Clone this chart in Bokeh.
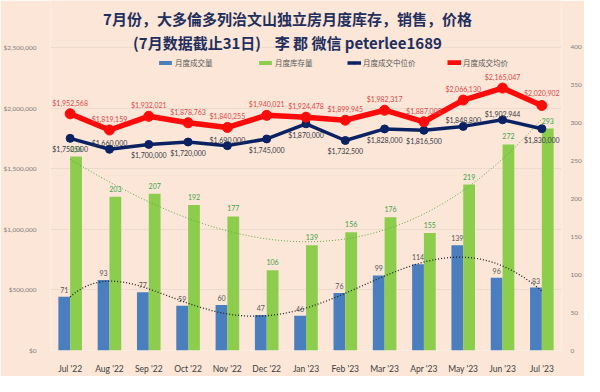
import numpy as np
from bokeh.plotting import figure
from bokeh.models import (ColumnDataSource, Range1d, LinearAxis, FixedTicker,
                          NumeralTickFormatter, Label, LabelSet, Legend, LegendItem)
from bokeh.transform import dodge
from bokeh.core.properties import value
from bokeh.embed import file_html
from bokeh.resources import INLINE

# ---------------- data ----------------
months = ["Jul '22", "Aug '22", "Sep '22", "Oct '22", "Nov '22", "Dec '22", "Jan '23",
          "Feb '23", "Mar '23", "Apr '23", "May '23", "Jun '23", "Jul '23"]
sales = [71, 93, 77, 59, 60, 47, 46, 76, 99, 114, 139, 96, 83]
inventory = [256, 203, 207, 192, 177, 106, 139, 156, 176, 155, 219, 272, 293]
median_price = [1750000, 1660000, 1700000, 1720000, 1690000, 1745000, 1870000,
                1732500, 1828000, 1816500, 1848800, 1902944, 1830000]
avg_price = [1952568, 1819159, 1932021, 1878763, 1840255, 1940021, 1924478,
             1899945, 1982317, 1887002, 2066130, 2165047, 2020902]
left_ticks = [0, 500000, 1000000, 1500000, 2000000, 2500000]
right_ticks = [0, 50, 100, 150, 200, 250, 300, 350, 400]

title1 = "7月份，大多倫多列治文山独立房月度库存，销售，价格"
title2 = "(7月数据截止31日)\u00a0\u00a0\u00a0 李\u00a0郡\u00a0微信\u00a0peterlee1689"
legend_labels = ["月度成交量", "月度库存量", "月度成交中位价", "月度成交均价"]

# label placement (style only)
median_place = ["below", "above", "below", "below", "above", "below", "below",
                "below", "below", "below", "above", "above", "below"]
avg_place = ["above"] * 12 + ["high"]

# ---------------- styles ----------------
BG = "#FBE6D7"
BLUE = "#4A7EBE"
GREEN = "#8DCD4E"
NAVY = "#0A2263"
RED = "#FF0A0A"
FONT = "Lato"
CJK = "Noto Sans CJK SC"

W, H = 584, 376
BORDER_B = 22
FRAME_H = H - BORDER_B
PLOT_H = 306.5  # pixel height of 0..top-tick
left_top = left_ticks[-1] * FRAME_H / PLOT_H
right_top = right_ticks[-1] * FRAME_H / PLOT_H

p = figure(width=W, height=H, x_range=months, y_range=Range1d(0, left_top),
           output_backend="svg", toolbar_location=None, title=None,
           min_border_left=48, min_border_right=16, min_border_top=0,
           min_border_bottom=BORDER_B, background_fill_color=BG,
           border_fill_color=BG, outline_line_color=None)
p.x_range.range_padding = 0
p.extra_y_ranges = {"right": Range1d(0, right_top)}

# axes
p.yaxis.ticker = FixedTicker(ticks=left_ticks)
p.yaxis.formatter = NumeralTickFormatter(format="$0,0")
ax_r = LinearAxis(y_range_name="right", ticker=FixedTicker(ticks=right_ticks))
p.add_layout(ax_r, "right")
for ax in [p.yaxis[0], ax_r, p.xaxis[0]]:
    ax.axis_line_color = None
    ax.major_tick_line_color = None
    ax.minor_tick_line_color = None
for ax in [p.yaxis[0], ax_r]:
    ax.major_label_text_font = FONT
    ax.major_label_text_font_size = "6.5px"
    ax.major_label_text_color = "#808080"
p.yaxis[0].major_label_standoff = 8
ax_r.major_label_standoff = 3
p.xaxis.major_label_text_font = FONT
p.xaxis.major_label_text_font_size = "8.5px"
p.xaxis.major_label_text_color = "#404040"
p.xaxis.major_label_standoff = 7
p.xgrid.grid_line_color = None
p.ygrid.grid_line_color = "#EAD8CB"
p.ygrid.grid_line_width = 0.8

src = ColumnDataSource(dict(
    m=months, sales=sales, inv=inventory, med=median_price, avg=avg_price,
    sales_t=[str(v) for v in sales], inv_t=[str(v) for v in inventory],
    med_t=["${:,}".format(v) for v in median_price],
    avg_t=["${:,}".format(v) for v in avg_price],
    med_dy=[-11 if pl == "below" else 6 for pl in median_place],
    avg_dy=[13 if pl == "high" else 11 for pl in avg_place],
))

# bars
b_sales = p.vbar(x=dodge("m", -0.15, range=p.x_range), top="sales", width=0.3,
                 source=src, y_range_name="right", fill_color=BLUE, line_color=None)
b_inv = p.vbar(x=dodge("m", 0.15, range=p.x_range), top="inv", width=0.3,
               source=src, y_range_name="right", fill_color=GREEN, line_color=None)

p.text(x=dodge("m", -0.15, range=p.x_range), y="sales", text="sales_t", source=src,
       y_range_name="right", y_offset=-7, text_align="center", text_baseline="middle",
       text_font=value(FONT), text_font_size="7px", text_color="#595959")
p.text(x=dodge("m", 0.15, range=p.x_range), y="inv", text="inv_t", source=src,
       y_range_name="right", y_offset=-8, text_align="center", text_baseline="middle",
       text_font=value(FONT), text_font_size="7px", text_color="#3FA34D")

# polynomial trendlines (derived from data)
xi = np.arange(len(months))
xs = np.linspace(0, len(months) - 1, 200)
inv_fit = np.polyval(np.polyfit(xi, inventory, 3), xs)
sales_fit = np.polyval(np.polyfit(xi, sales, 5), xs)
p.line(xs + 0.5, inv_fit, y_range_name="right", line_color="#5AA845",
       line_width=1, line_dash="1 2")
p.line(xs + 0.5, sales_fit, y_range_name="right", line_color="#202020",
       line_width=1.3, line_dash="1 2")

# price lines
l_med = p.line("m", "med", source=src, line_color=NAVY, line_width=3.5, line_join="round")
s_med = p.scatter("m", "med", source=src, size=8, fill_color=NAVY, line_color=NAVY)
l_avg = p.line("m", "avg", source=src, line_color=RED, line_width=5.5, line_join="round")
s_avg = p.scatter("m", "avg", source=src, size=10, fill_color=RED, line_color=RED)

p.add_layout(LabelSet(x="m", y="med", text="med_t", source=src,
                      y_offset="med_dy", text_align="center", text_baseline="middle",
                      text_font=value(FONT), text_font_size="7px",
                      text_color="#3A3A48"))
p.add_layout(LabelSet(x="m", y="avg", text="avg_t", source=src,
                      y_offset="avg_dy", text_align="center", text_baseline="middle",
                      text_font=value(FONT), text_font_size="7px",
                      text_color="#E0474C"))

# legends
leg_specs = [(legend_labels[0], [b_sales], 107, 16),
             (legend_labels[1], [b_inv], 207, 16),
             (legend_labels[2], [l_med, s_med], 297, 14),
             (legend_labels[3], [l_avg, s_avg], 397, 14)]
for lab, rends, xpos, gw in leg_specs:
    lg = Legend(items=[LegendItem(label=lab, renderers=rends)], location=(xpos, 282),
                orientation="horizontal", padding=0, margin=0, spacing=0,
                glyph_width=gw, glyph_height=5, label_standoff=2, label_height=8,
                label_text_font=CJK, label_text_font_size="7.5px",
                label_text_color="#595959", background_fill_alpha=0,
                border_line_alpha=0)
    p.add_layout(lg)

# title
for txt, yy in [(title1, FRAME_H - 22), (title2, FRAME_H - 46)]:
    p.add_layout(Label(x=237, y=yy, x_units="screen", y_units="screen", text=txt,
                       text_align="center", text_baseline="middle", text_font=CJK,
                       text_font_size="15px", text_font_style="bold",
                       text_color="#1F2F5E"))

open("out.html", "w").write(file_html(p, INLINE))
